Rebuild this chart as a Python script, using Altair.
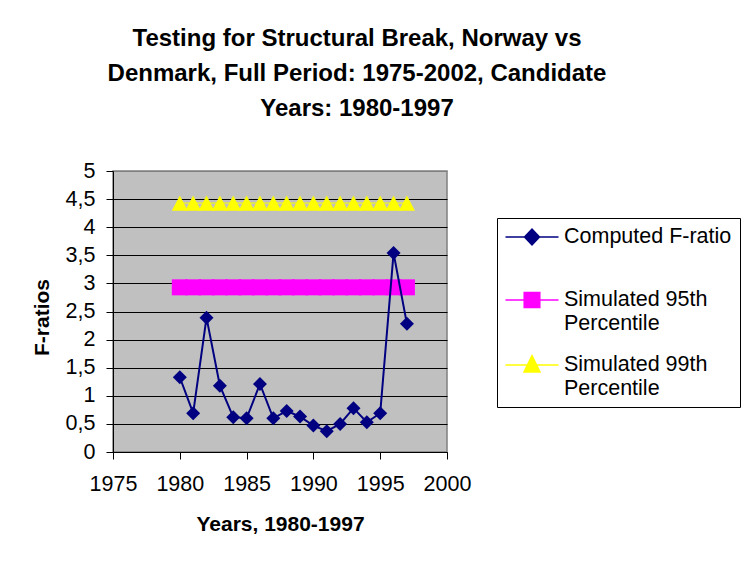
import altair as alt
import pandas as pd

# ---- data ----
years = [1980, 1981, 1982, 1983, 1984, 1985, 1986, 1987, 1988,
         1989, 1990, 1991, 1992, 1993, 1994, 1995, 1996, 1997]
f_ratio = [1.33, 0.69, 2.39, 1.18, 0.62, 0.60, 1.21, 0.60, 0.73,
           0.63, 0.47, 0.37, 0.50, 0.78, 0.53, 0.69, 3.54, 2.28]
pct95 = [2.93, 2.93, 2.93, 2.93, 2.93, 2.93, 2.93, 2.93, 2.93,
         2.93, 2.93, 2.93, 2.93, 2.93, 2.93, 2.93, 2.93, 2.93]
pct99 = [4.43, 4.43, 4.43, 4.43, 4.43, 4.43, 4.43, 4.43, 4.43,
         4.43, 4.43, 4.43, 4.43, 4.43, 4.43, 4.43, 4.43, 4.43]

series_names = ["Computed F-ratio", "Simulated 95th|Percentile", "Simulated 99th|Percentile"]
series_colors = ["#000080", "#FF00FF", "#FFFF00"]

x_ticks = [1975, 1980, 1985, 1990, 1995, 2000]
y_ticks = [0, 0.5, 1, 1.5, 2, 2.5, 3, 3.5, 4, 4.5, 5]

title_lines = ["Testing for Structural Break, Norway vs",
               "Denmark, Full Period: 1975-2002, Candidate",
               "Years: 1980-1997"]

rows = []
for name, vals in zip(series_names, [f_ratio, pct95, pct99]):
    for yr, v in zip(years, vals):
        rows.append({"Year": yr, "Value": v, "Series": name})
df = pd.DataFrame(rows)

FONT = "Liberation Sans"

x_enc = alt.X("Year:Q",
              scale=alt.Scale(domain=[1975, 2000], nice=False, zero=False),
              axis=alt.Axis(values=x_ticks, format="d", title="Years, 1980-1997",
                            grid=False, labelOverlap=False, labelFlush=False,
                            labelPadding=14, titlePadding=19))
y_enc = alt.Y("Value:Q",
              scale=alt.Scale(domain=[0, 5], nice=False),
              axis=alt.Axis(values=y_ticks, title="F-ratios",
                            labelExpr="replace(toString(datum.value), '.', ',')",
                            labelOverlap=False, labelFlush=False,
                            grid=True, labelPadding=11, titlePadding=13, titleY=146,
                            gridColor={"condition": {"test": "datum.value == 5", "value": "#808080"},
                                       "value": "black"}))


def series_layer(name, color, shape, size, sw):
    b = alt.Chart(df).transform_filter(alt.datum.Series == name)
    line = b.mark_line(color=color, strokeWidth=sw).encode(x=x_enc, y=y_enc)
    pts = b.mark_point(shape=shape, size=size, filled=True, color=color,
                       opacity=1, strokeWidth=0).encode(x=x_enc, y=y_enc)
    return line + pts


s99 = series_layer(series_names[2], series_colors[2], "M0,-0.95L1,0.95L-1,0.95Z", 256, 1)
s95 = series_layer(series_names[1], series_colors[1], "square", 256, 1)
sF = series_layer(series_names[0], series_colors[0], "diamond", 196, 2)

legend_paths = [
    "M-2.65,0H2.65M-0.75,0L0,-0.78L0.75,0L0,0.78Z",
    "M-2.65,0H2.65M-0.78,-0.75H0.78V0.75H-0.78Z",
    "M-2.65,0H2.65M0,-0.94L0.8,0.7L-0.8,0.7Z",
]

leg = alt.Legend(title=None, orient="none", legendX=384, legendY=47,
                 labelFont=FONT, labelFontSize=21.5, labelColor="black",
                 labelLimit=400, symbolSize=400, symbolStrokeWidth=1.5,
                 symbolOffset=16, labelOffset=21, rowPadding=18, padding=8,
                 strokeColor="black", fillColor="white",
                 labelExpr="indexof(datum.label, '|') < 0 ? [datum.label, ''] : split(datum.label, '|')")

legend_layer = alt.Chart(df).transform_filter("false").mark_point(filled=True, opacity=1).encode(
    x=x_enc, y=y_enc,
    fill=alt.Fill("Series:N", scale=alt.Scale(domain=series_names, range=series_colors), legend=leg),
    stroke=alt.Stroke("Series:N", scale=alt.Scale(domain=series_names, range=series_colors), legend=leg),
    shape=alt.Shape("Series:N", scale=alt.Scale(domain=series_names, range=legend_paths), legend=leg),
)

chart = alt.layer(legend_layer, s99, s95, sF).properties(
    width=334, height=281,
    title=alt.Title(text=title_lines, fontSize=24, fontWeight="bold", font=FONT,
                    anchor="middle", dx=77, lineHeight=35, offset=39, color="black"),
    autosize=alt.AutoSizeParams(type="none"),
    padding={"left": 105, "top": 163, "right": 294, "bottom": 106},
).configure(font=FONT).configure_view(
    fill="#C0C0C0", stroke="#808080", strokeWidth=1.5
).configure_axis(
    labelFont=FONT, labelFontSize=21.5, labelColor="black",
    titleFont=FONT, titleFontSize=21, titleFontWeight="bold", titleColor="black",
    domainColor="black", domainWidth=1, tickColor="black", tickSize=7, tickWidth=1,
    gridWidth=1,
)

chart.save("out.html", embed_options={"renderer": "svg", "actions": False})
